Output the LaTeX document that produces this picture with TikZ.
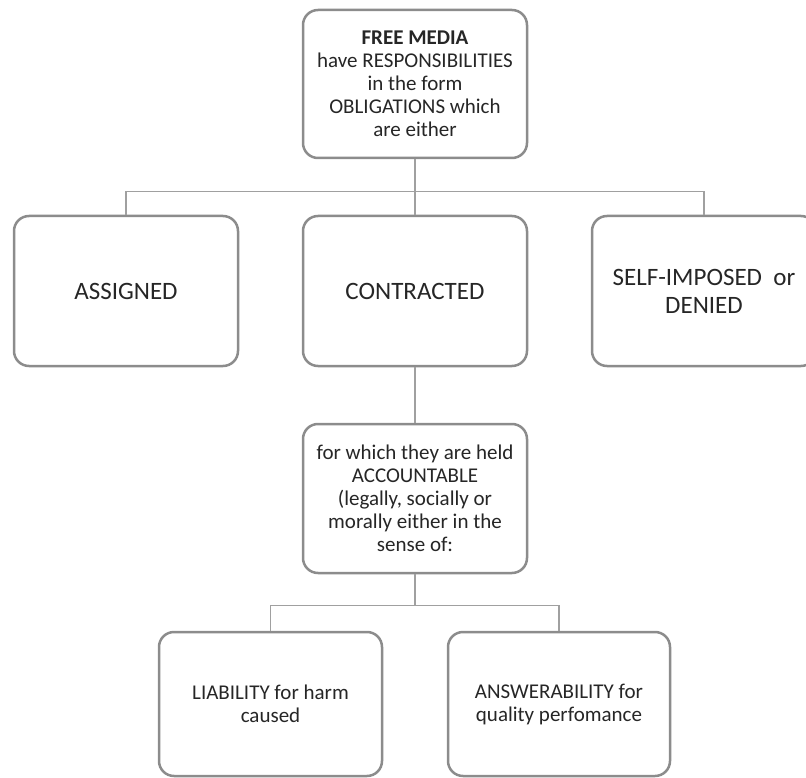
\documentclass[tikz,border=0pt]{standalone}
\usepackage{fontspec}
\setmainfont{Carlito}
\usetikzlibrary{calc}
\definecolor{boxline}{HTML}{8C8C8C}
\definecolor{connline}{HTML}{A0A0A0}
\definecolor{txt}{HTML}{262626}
\tikzset{
  boxnode/.style={draw=boxline, line width=2.5pt, rounded corners=15pt, fill=white,
    minimum width=224pt, inner sep=0pt, align=center, text=txt},
  smalltxt/.style={font=\fontsize{21}{23}\selectfont},
  bigtxt/.style={font=\fontsize{25}{28}\selectfont},
  conn/.style={draw=connline, line width=1.3pt}
}
\begin{document}
\begin{tikzpicture}[x=1pt,y=-1pt]
\useasboundingbox (0,0) rectangle (806,778);
\begin{scope}
\clip (0,0) rectangle (806,778);
\node[boxnode, smalltxt, minimum height=148pt] (top) at (415,84)
  {\textbf{FREE MEDIA}\\have RESPONSIBILITIES\\in the form\\OBLIGATIONS which\\are either};
\node[boxnode, bigtxt, minimum height=150pt] (assigned) at (126,291) {ASSIGNED};
\node[boxnode, bigtxt, minimum height=150pt] (contracted) at (415,291) {CONTRACTED};
\node[boxnode, bigtxt, minimum height=150pt] (self) at (704,291) {SELF-IMPOSED~ or\\DENIED};
\node[boxnode, smalltxt, minimum height=149pt] (acc) at (415,498.5)
  {for which they are held\\ACCOUNTABLE\\(legally, socially or\\morally either in the\\sense of:};
\node[boxnode, smalltxt, minimum width=223pt, minimum height=144pt] (liab) at (270.5,704)
  {LIABILITY for harm\\caused};
\node[boxnode, smalltxt, minimum width=222pt, minimum height=144pt] (answ) at (559,704)
  {ANSWERABILITY for\\quality perfomance};
\coordinate (j1) at ($(top.south)+(0,32)$);
\coordinate (j2) at ($(acc.south)+(0,31)$);
\draw[conn] (top.south) -- (j1) -| (assigned.north);
\draw[conn] (j1) -| (self.north);
\draw[conn] (j1) -- (contracted.north);
\draw[conn] (contracted.south) -- (acc.north);
\draw[conn] (acc.south) -- (j2) -| (liab.north);
\draw[conn] (j2) -| (answ.north);
\end{scope}
\end{tikzpicture}
\end{document}
